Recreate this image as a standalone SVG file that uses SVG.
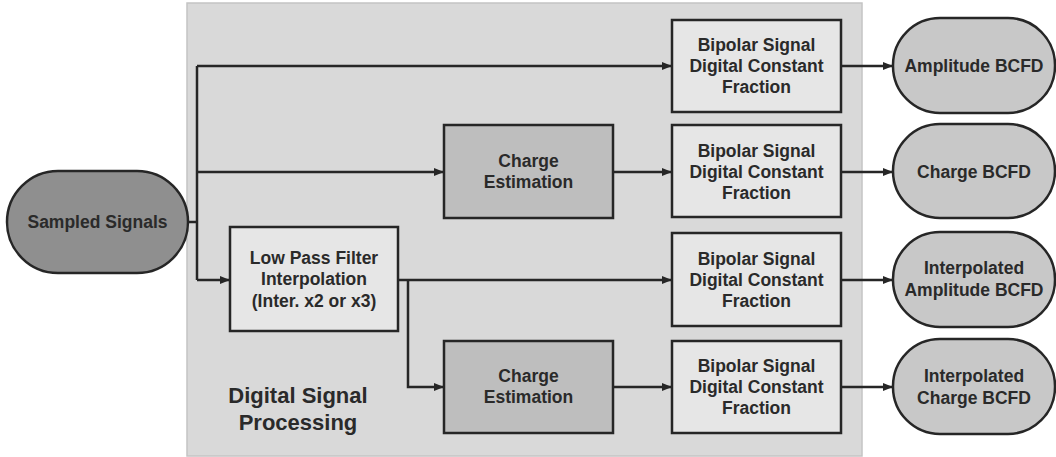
<svg xmlns="http://www.w3.org/2000/svg" width="1056" height="457" viewBox="0 0 1056 457">
<defs>
<marker id="ah" viewBox="0 0 10 8" refX="10" refY="4" markerWidth="10" markerHeight="8" markerUnits="userSpaceOnUse" orient="auto">
<path d="M0,0 L10,4 L0,8 Z" fill="#262626"/>
</marker>
</defs>
<style>
.box{stroke:#262626;stroke-width:2.5}
.light{fill:#e6e6e6}
.mid{fill:#bebebe}
.dark{fill:#8f8f8f}
.out{fill:#c8c8c8}
.t{font-family:"Liberation Sans",Arial,sans-serif;font-weight:bold;font-size:17.5px;fill:#2a2a2a;text-anchor:middle}
.big{font-size:22px}
.c{fill:none;stroke:#262626;stroke-width:2.5}
.ca{fill:none;stroke:#262626;stroke-width:2.5;marker-end:url(#ah)}
</style>
<rect id="panel" x="187" y="3" width="675" height="453" fill="#d9d9d9" stroke="#c4c4c4" stroke-width="1.5"/>
<text class="t big" x="298" y="403">Digital Signal</text>
<text class="t big" x="298" y="430">Processing</text>

<g id="connectors">
<path class="c" d="M188,222 H197"/>
<path class="c" d="M197,66 V280"/>
<path class="ca" d="M197,66 H672"/>
<path class="ca" d="M197,172 H444"/>
<path class="ca" d="M197,280 H230"/>
<path class="ca" d="M613,172 H672"/>
<path class="ca" d="M398,280 H672"/>
<path class="ca" d="M408,280 V387 H444"/>
<path class="ca" d="M613,387 H672"/>
<path class="ca" d="M841,66 H893"/>
<path class="ca" d="M841,172 H893"/>
<path class="ca" d="M841,280 H893"/>
<path class="ca" d="M841,387 H893"/>
</g>

<g id="sampled">
<rect class="box dark" x="7" y="171" width="181" height="102" rx="51"/>
<text class="t" x="97.5" y="228">Sampled Signals</text>
</g>

<g id="lowpass">
<rect class="box light" x="230" y="227" width="168" height="104"/>
<text class="t" x="314" y="264">Low Pass Filter</text>
<text class="t" x="314" y="285">Interpolation</text>
<text class="t" x="314" y="307">(Inter. x2 or x3)</text>
</g>

<g id="charge1">
<rect class="box mid" x="444" y="125" width="169" height="93"/>
<text class="t" x="528.5" y="167">Charge</text>
<text class="t" x="528.5" y="188">Estimation</text>
</g>

<g id="charge2">
<rect class="box mid" x="444" y="341" width="169" height="92"/>
<text class="t" x="528.5" y="382">Charge</text>
<text class="t" x="528.5" y="403">Estimation</text>
</g>

<g id="bipolar1">
<rect class="box light" x="672" y="20" width="169" height="92"/>
<text class="t" x="756.5" y="51">Bipolar Signal</text>
<text class="t" x="756.5" y="72">Digital Constant</text>
<text class="t" x="756.5" y="93">Fraction</text>
</g>

<g id="bipolar2">
<rect class="box light" x="672" y="125" width="169" height="92"/>
<text class="t" x="756.5" y="157">Bipolar Signal</text>
<text class="t" x="756.5" y="178">Digital Constant</text>
<text class="t" x="756.5" y="199">Fraction</text>
</g>

<g id="bipolar3">
<rect class="box light" x="672" y="233" width="169" height="93"/>
<text class="t" x="756.5" y="265">Bipolar Signal</text>
<text class="t" x="756.5" y="286">Digital Constant</text>
<text class="t" x="756.5" y="307">Fraction</text>
</g>

<g id="bipolar4">
<rect class="box light" x="672" y="341" width="169" height="92"/>
<text class="t" x="756.5" y="372">Bipolar Signal</text>
<text class="t" x="756.5" y="393">Digital Constant</text>
<text class="t" x="756.5" y="414">Fraction</text>
</g>

<g id="out1">
<rect class="box out" x="893" y="18" width="162" height="95" rx="47"/>
<text class="t" x="974" y="72">Amplitude BCFD</text>
</g>

<g id="out2">
<rect class="box out" x="893" y="124" width="162" height="94" rx="47"/>
<text class="t" x="974" y="178">Charge BCFD</text>
</g>

<g id="out3">
<rect class="box out" x="893" y="232" width="162" height="95" rx="47"/>
<text class="t" x="974" y="274">Interpolated</text>
<text class="t" x="974" y="296">Amplitude BCFD</text>
</g>

<g id="out4">
<rect class="box out" x="893" y="339" width="162" height="95" rx="47"/>
<text class="t" x="974" y="382">Interpolated</text>
<text class="t" x="974" y="404">Charge BCFD</text>
</g>
</svg>
